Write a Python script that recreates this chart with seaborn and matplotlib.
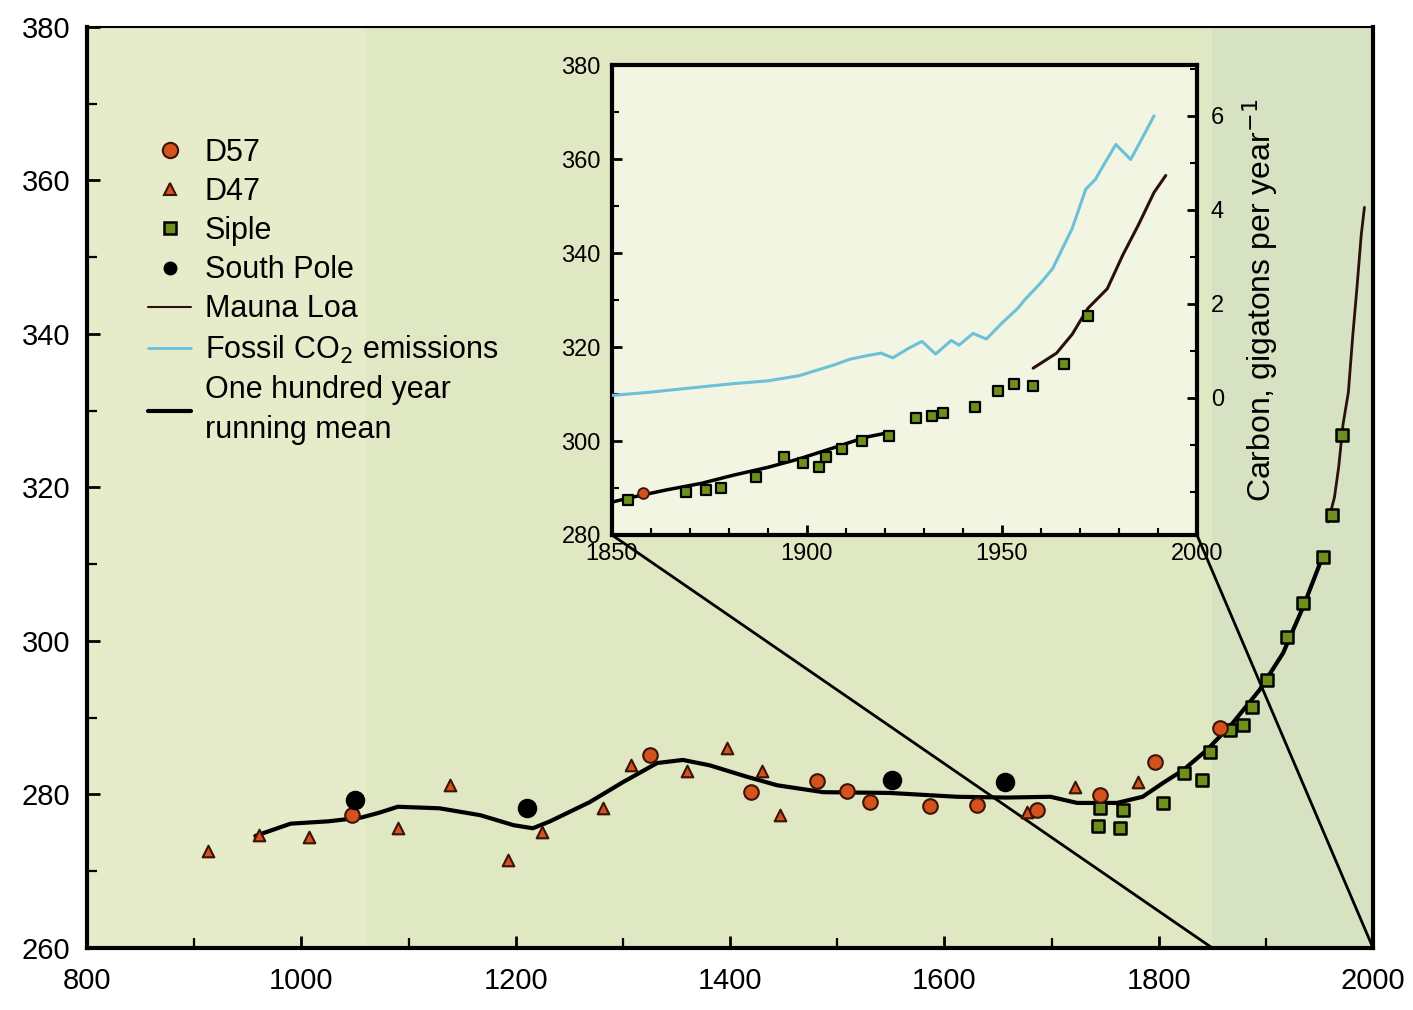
import numpy as np
import pandas as pd
import matplotlib
matplotlib.use("Agg")
import matplotlib.pyplot as plt
import seaborn as sns
from matplotlib.patches import ConnectionPatch
from matplotlib.lines import Line2D
from matplotlib.ticker import MultipleLocator

# ---------------- main chart data ----------------
d57_year = [1047, 1325, 1420, 1481, 1509, 1531, 1587, 1630, 1686, 1745, 1797, 1857]
d57_ppm = [277.3, 285.1, 280.3, 281.7, 280.4, 279.0, 278.5, 278.6, 278.0, 279.9, 284.2, 288.7]

d47_year = [913, 960, 1007, 1090, 1139, 1193, 1225, 1281, 1308, 1360, 1397, 1430, 1447, 1677, 1722, 1781]
d47_ppm = [272.6, 274.7, 274.5, 275.6, 281.2, 271.5, 275.1, 278.2, 283.8, 283.0, 286.1, 283.0, 277.3, 277.7, 281.0, 281.6]

siple_year = [1743, 1745, 1764, 1767, 1804, 1824, 1840, 1848, 1867, 1879, 1887, 1901, 1920, 1935, 1953, 1962, 1971]
siple_ppm = [275.9, 278.2, 275.6, 278.0, 278.9, 282.8, 281.9, 285.5, 288.4, 289.0, 291.4, 294.9, 300.5, 305.0, 310.9, 316.4, 326.8]

spole_year = [1050, 1211, 1551, 1657]
spole_ppm = [279.3, 278.2, 281.9, 281.6]

mean_year = [957, 990, 1025, 1056, 1072, 1090, 1129, 1167, 1198, 1216, 1232, 1269, 1300, 1332,
             1356, 1381, 1416, 1444, 1487, 1549, 1612, 1658, 1699, 1724, 1761, 1785, 1804, 1823,
             1845, 1869, 1894, 1916, 1935, 1953]
mean_ppm = [274.6, 276.2, 276.5, 277.0, 277.6, 278.4, 278.2, 277.3, 276.0, 275.6, 276.5, 279.0, 281.6,
            284.1, 284.5, 283.8, 282.3, 281.2, 280.3, 280.2, 279.7, 279.6, 279.7, 278.9, 278.9, 279.7,
            281.5, 283.2, 285.8, 289.3, 293.6, 298.4, 304.5, 311.0]

mauna_year = [1958, 1964, 1968, 1972, 1977, 1981, 1985, 1989, 1992]
mauna_ppm = [315.5, 318.7, 322.7, 328.2, 332.4, 339.6, 346.0, 352.9, 356.5]

# ---------------- inset data ----------------
in_siple_year = [1854, 1869, 1874, 1878, 1887, 1894, 1899, 1903, 1905, 1909, 1914, 1921, 1928, 1932,
                 1935, 1943, 1949, 1953, 1958, 1966, 1972]
in_siple_ppm = [287.4, 289.1, 289.5, 290.1, 292.3, 296.5, 295.4, 294.4, 296.5, 298.4, 300.1, 301.1,
                304.9, 305.4, 306.0, 307.3, 310.7, 312.1, 311.7, 316.3, 326.6]
in_d57_year = [1858]
in_d57_ppm = [289.0]

in_mean_year = [1850, 1855, 1864, 1873, 1881, 1890, 1898, 1907, 1915, 1921]
in_mean_ppm = [287.0, 288.0, 289.6, 291.0, 292.7, 294.4, 296.2, 298.6, 300.8, 301.8]

fossil_year = [1850, 1860, 1868, 1881, 1890, 1898, 1907, 1911, 1915, 1919, 1922, 1926, 1929.5, 1933,
               1937, 1939, 1942.6, 1946, 1950, 1954, 1956, 1960, 1963, 1968, 1971.5, 1974, 1975.7,
               1979.2, 1983, 1985.8, 1989]
fossil_c = [0.05, 0.12, 0.19, 0.30, 0.36, 0.47, 0.70, 0.82, 0.89, 0.95, 0.85, 1.05, 1.20, 0.93,
            1.22, 1.12, 1.37, 1.25, 1.59, 1.90, 2.10, 2.45, 2.75, 3.60, 4.44, 4.65, 4.90,
            5.39, 5.07, 5.50, 6.00]

main_xticks = [800, 1000, 1200, 1400, 1600, 1800, 2000]
main_yticks = [260, 280, 300, 320, 340, 360, 380]
inset_xticks = [1850, 1900, 1950, 2000]
inset_yticks = [280, 300, 320, 340, 360, 380]
inset_rticks = [0, 2, 4, 6]

# ---------------- styling ----------------
sns.set_style("ticks")
plt.rcParams["font.family"] = ["Liberation Sans Narrow", "Liberation Sans", "DejaVu Sans"]
plt.rcParams["text.color"] = "black"
plt.rcParams["axes.labelcolor"] = "black"

C_D57 = "#d4521c"
C_EDGE = "#3a140a"
C_SIPLE = "#6f8f1c"
C_FOSSIL = "#6cc0d8"
C_ML = "#2a100a"

fig = plt.figure(figsize=(14.13, 10.10), dpi=100)
fig.patch.set_facecolor("white")
ax = fig.add_axes([0.0616, 0.0614, 0.9101, 0.9119])
ax.set_facecolor("#dfe7c3")

# lighter / greener background bands
ax.axvspan(800, 1060, color="#e6ecc9", zorder=0, lw=0)
ax.axvspan(1850, 2000, color="#d6e2c2", zorder=0, lw=0)

sns.lineplot(x=mean_year, y=mean_ppm, color="black", lw=3.0, ax=ax, sort=False,
             estimator=None, zorder=3)
sns.lineplot(x=mauna_year, y=mauna_ppm, color=C_ML, lw=2.0, ax=ax, sort=False,
             estimator=None, zorder=3)
sns.scatterplot(x=d47_year, y=d47_ppm, marker="^", s=70, color=C_D57, edgecolor=C_EDGE,
                linewidth=1.5, ax=ax, zorder=4)
sns.scatterplot(x=siple_year, y=siple_ppm, marker="s", s=75, color=C_SIPLE, edgecolor="black",
                linewidth=1.8, ax=ax, zorder=4)
sns.scatterplot(x=d57_year, y=d57_ppm, marker="o", s=110, color=C_D57, edgecolor=C_EDGE,
                linewidth=1.5, ax=ax, zorder=5)
sns.scatterplot(x=spole_year, y=spole_ppm, marker="o", s=170, color="black", edgecolor="black",
                linewidth=1, ax=ax, zorder=5)

ax.set_xlim(800, 2000)
ax.set_ylim(260, 380)
ax.set_xticks(main_xticks)
ax.set_yticks(main_yticks)
ax.xaxis.set_minor_locator(MultipleLocator(100))
ax.yaxis.set_minor_locator(MultipleLocator(10))
ax.tick_params(axis="both", which="both", direction="in", colors="black", labelsize=21)
ax.tick_params(axis="both", which="major", length=9, width=2)
ax.tick_params(axis="both", which="minor", length=7, width=1.6)
ax.tick_params(axis="x", pad=14)
ax.tick_params(axis="y", pad=12)
for side, sp in ax.spines.items():
    sp.set_color("black")
    sp.set_linewidth(3.0 if side in ("left", "bottom", "right") else 1.5)
ax.set_xlabel("")
ax.set_ylabel("")

handles = [
    Line2D([], [], ls="none", marker="o", ms=11, mfc=C_D57, mec=C_EDGE, mew=1.5),
    Line2D([], [], ls="none", marker="^", ms=8, mfc=C_D57, mec=C_EDGE, mew=1.5),
    Line2D([], [], ls="none", marker="s", ms=8, mfc=C_SIPLE, mec="black", mew=1.8),
    Line2D([], [], ls="none", marker="o", ms=9, mfc="black", mec="black"),
    Line2D([], [], color=C_ML, lw=1.5),
    Line2D([], [], color=C_FOSSIL, lw=2),
    Line2D([], [], color="black", lw=3),
]
labels = ["D57", "D47", "Siple", "South Pole", "Mauna Loa", "Fossil CO$_2$ emissions",
          "One hundred year\nrunning mean"]
leg = ax.legend(handles, labels, loc="upper left", bbox_to_anchor=(0.038, 0.893),
                frameon=False, fontsize=22, handlelength=1.4, handletextpad=0.45,
                labelspacing=0.3, borderaxespad=0, labelcolor="black")
for t in leg.get_texts():
    t.set_linespacing(1.45)

# ---------------- inset ----------------
axi = fig.add_axes([0.4331, 0.4703, 0.4140, 0.4653])
axi.set_facecolor("#f2f5e1")
sns.lineplot(x=in_mean_year, y=in_mean_ppm, color="black", lw=2.5, ax=axi, sort=False,
             estimator=None, zorder=3)
sns.lineplot(x=mauna_year, y=mauna_ppm, color=C_ML, lw=2.2, ax=axi, sort=False,
             estimator=None, zorder=3)
sns.scatterplot(x=in_siple_year, y=in_siple_ppm, marker="s", s=55, color=C_SIPLE,
                edgecolor="black", linewidth=1.6, ax=axi, zorder=4)
sns.scatterplot(x=in_d57_year, y=in_d57_ppm, marker="o", s=60, color=C_D57,
                edgecolor=C_EDGE, linewidth=1.3, ax=axi, zorder=4)
axi.set_xlim(1850, 2000)
axi.set_ylim(280, 380)
axi.set_xticks(inset_xticks)
axi.set_yticks(inset_yticks)
axi.xaxis.set_minor_locator(MultipleLocator(10))
axi.yaxis.set_minor_locator(MultipleLocator(10))
axi.tick_params(axis="both", which="both", direction="in", labelsize=17, colors="black")
axi.tick_params(axis="both", which="major", length=7, width=2)
axi.tick_params(axis="both", which="minor", length=5, width=1.5)
axi.tick_params(axis="x", pad=6)
axi.tick_params(axis="y", pad=8)
for sp in axi.spines.values():
    sp.set_color("black")
    sp.set_linewidth(3.0)
axi.set_xlabel("")
axi.set_ylabel("")

axr = axi.twinx()
sns.lineplot(x=fossil_year, y=fossil_c, color=C_FOSSIL, lw=2.2, ax=axr, sort=False,
             estimator=None, zorder=3)
axr.set_ylim(-2.92, 7.08)
axr.set_yticks(inset_rticks)
axr.yaxis.set_minor_locator(MultipleLocator(1))
axr.tick_params(axis="y", which="both", direction="in", labelsize=17, colors="black", pad=10)
axr.tick_params(axis="y", which="major", length=7, width=2)
axr.tick_params(axis="y", which="minor", length=5, width=1.5)
for sp in axr.spines.values():
    sp.set_visible(False)
axr.set_ylabel("Carbon, gigatons per year$^{-1}$", fontsize=23, labelpad=12, color="black")
axr.set_xlabel("")

# connector lines from inset corners to main axis
for xi, yi, xm, ym in [(1850, 280, 1850, 260), (2000, 280, 2000, 260)]:
    con = ConnectionPatch(xyA=(xi, yi), coordsA=axi.transData, xyB=(xm, ym),
                          coordsB=ax.transData, color="black", lw=2.0, zorder=2)
    ax.add_artist(con)

fig.savefig("out.png", dpi=100)
